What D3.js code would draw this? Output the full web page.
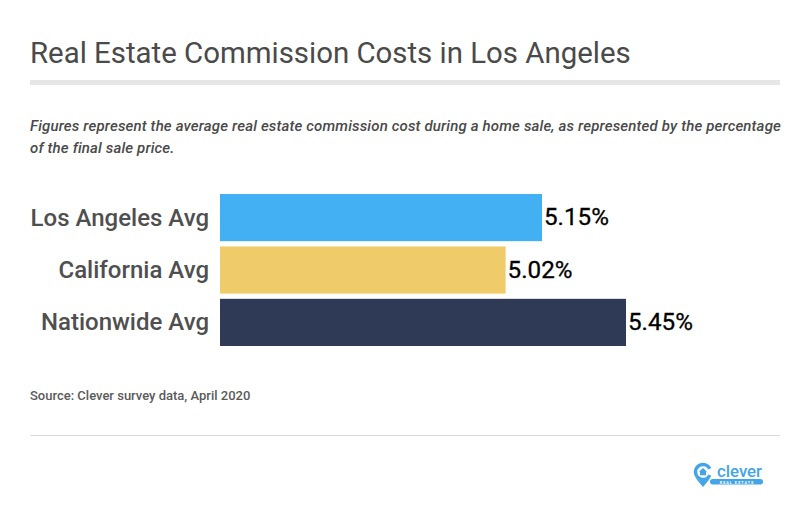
<!DOCTYPE html>
<html><head><meta charset="utf-8">
<script src="https://cdnjs.cloudflare.com/ajax/libs/d3/7.8.5/d3.min.js"></script>
<style>html,body{margin:0;padding:0;background:#fff}svg{display:block}text{font-family:Roboto,sans-serif}</style>
</head><body><svg id="c" width="810" height="517"></svg>
<script>
const categories=["Los Angeles Avg","California Avg","Nationwide Avg"];
const values=[5.15,5.02,5.45];
const colors=["#42b0f2","#efcb69","#2f3a56"];
const title="Real Estate Commission Costs in Los Angeles";
const subtitle=["Figures represent the average real estate commission cost during a home sale, as represented by the percentage","of the final sale price."];
const source="Source: Clever survey data, April 2020";

const svg=d3.select("#c");
const x=d3.scaleLinear().domain([4,5.45]).range([220,626]);
const y=d3.scaleBand().domain(categories).range([194,346]).paddingInner(0.1).paddingOuter(0);

svg.append("text").attr("x",30).attr("y",63).attr("font-size",29.4).attr("fill","#4a4a4a").text(title);
svg.append("rect").attr("x",30).attr("y",80).attr("width",750).attr("height",5).attr("fill","#e6e6e6");
svg.selectAll(".sub").data(subtitle).join("text").attr("class","sub")
  .attr("x",30).attr("y",(d,i)=>131+i*22).attr("font-size",15).attr("letter-spacing",0.16).attr("font-style","italic").attr("font-weight",500).attr("fill","#4a4a4a").text(d=>d);

svg.selectAll(".bar").data(categories).join("rect").attr("class","bar")
  .attr("x",x(4)).attr("y",d=>y(d)).attr("height",y.bandwidth())
  .attr("width",(d,i)=>x(values[i])-x(4)).attr("fill",(d,i)=>colors[i]);
svg.selectAll(".cat").data(categories).join("text").attr("class","cat")
  .attr("x",209).attr("y",d=>y(d)+y.bandwidth()/2+8).attr("text-anchor","end")
  .attr("font-size",24).attr("font-weight",500).attr("fill","#4f4f4f").text(d=>d);
svg.selectAll(".val").data(categories).join("text").attr("class","val")
  .attr("x",(d,i)=>x(values[i])+2).attr("y",d=>y(d)+y.bandwidth()/2+7.5).attr("font-size",24.2).attr("font-weight",400).attr("fill","#000").attr("stroke","#000").attr("stroke-width",0.3)
  .text((d,i)=>values[i].toFixed(2)+"%");

svg.append("text").attr("x",30).attr("y",400).attr("font-size",13).attr("font-weight",500).attr("fill","#5a5a5a").text(source);
svg.append("rect").attr("x",30).attr("y",435).attr("width",750).attr("height",1).attr("fill","#dcdcdc");

// logo
const blue="#42a5e8";
const logo=svg.append("g").attr("transform","translate(703,472)");
logo.append("path").attr("d",d3.arc().innerRadius(5.8).outerRadius(9.2).startAngle(2.0).endAngle(7.4)()).attr("fill",blue);
logo.append("path").attr("d","M-7.5,6L0,15L7.5,6L3,8.5H-3Z").attr("fill",blue);
logo.append("path").attr("d","M0,-4L4,-0.3H3V3.2H-3V-0.3H-4Z").attr("fill",blue);
logo.append("text").attr("x",14).attr("y",4.8).attr("font-size",16).attr("font-weight",500).attr("fill",blue).attr("textLength",45).attr("lengthAdjust","spacingAndGlyphs").text("clever");
logo.append("rect").attr("x",7).attr("y",7).attr("width",53).attr("height",5.5).attr("rx",2.75).attr("fill",blue);
logo.append("text").attr("x",34).attr("y",11.6).attr("text-anchor","middle").attr("font-size",3.8).attr("font-weight",700).attr("letter-spacing",1).attr("fill","#fff").text("REAL ESTATE");
</script></body></html>
